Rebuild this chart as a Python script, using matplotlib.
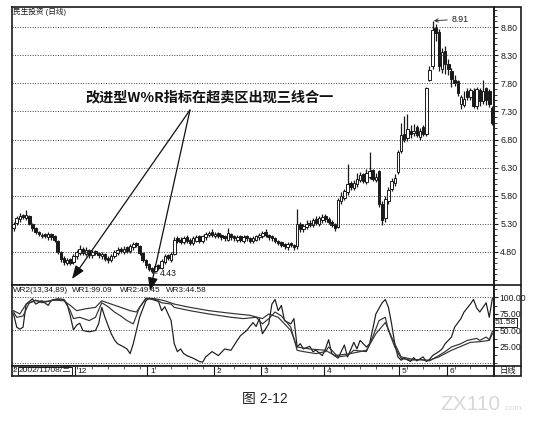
import matplotlib
matplotlib.use('Agg')
import matplotlib.pyplot as plt
import numpy as np
from matplotlib.ticker import MultipleLocator, FixedLocator
from matplotlib.patches import Rectangle, FancyArrowPatch
from matplotlib.lines import Line2D

plt.rcParams['font.family'] = ['Liberation Sans', 'Noto Sans CJK SC', 'DejaVu Sans']

# ---------------- data ----------------
opens = [5.22, 5.32, 5.38, 5.46, 5.40, 5.44, 5.30, 5.22, 5.16, 5.08,
         5.12, 5.06, 5.12, 5.08, 5.00, 4.80, 4.70, 4.60, 4.68, 4.62,
         4.72, 4.78, 4.86, 4.76, 4.84, 4.74, 4.82, 4.78, 4.72, 4.76,
         4.70, 4.66, 4.72, 4.78, 4.86, 4.80, 4.88, 4.82, 4.88, 4.96,
         4.90, 4.78, 4.66, 4.58, 4.52, 4.46, 4.56, 4.52, 4.62, 4.74,
         4.66, 4.76, 5.04, 5.02, 4.98, 5.06, 5.02, 4.96, 5.00, 5.08,
         5.00, 5.06, 5.10, 5.16, 5.08, 5.14, 5.10, 5.08, 5.02, 5.12,
         5.08, 5.02, 5.08, 5.00, 5.08, 5.04, 5.00, 5.02, 5.06, 5.08,
         5.16, 5.10, 5.08, 5.04, 5.00, 4.98, 4.94, 4.88, 4.96, 4.92,
         4.90, 5.30, 5.20, 5.24, 5.32, 5.28, 5.38, 5.30, 5.36, 5.44,
         5.38, 5.34, 5.30, 5.24, 5.70, 5.76, 5.86, 6.02, 5.94, 6.00,
         6.08, 6.18, 6.04, 6.14, 6.26, 6.08, 6.24, 5.66, 5.40, 5.70,
         5.92, 6.02, 6.22, 6.60, 6.90, 6.82, 6.96, 6.92, 7.02, 6.84,
         7.02, 6.90, 7.86, 8.10, 8.78, 8.72, 8.06, 8.38, 8.14, 8.02,
         7.86, 7.84, 7.44, 7.42, 7.66, 7.56, 7.66, 7.40, 7.68, 7.48,
         7.72, 7.66, 7.36]
closes = [5.30, 5.40, 5.44, 5.42, 5.46, 5.30, 5.22, 5.15, 5.12, 5.10,
          5.08, 5.12, 5.06, 5.02, 4.80, 4.68, 4.62, 4.66, 4.60, 4.72,
          4.80, 4.86, 4.78, 4.84, 4.74, 4.80, 4.78, 4.74, 4.76, 4.68,
          4.66, 4.72, 4.80, 4.84, 4.82, 4.86, 4.82, 4.90, 4.94, 4.92,
          4.78, 4.66, 4.56, 4.50, 4.46, 4.55, 4.52, 4.64, 4.72, 4.70,
          4.76, 5.02, 5.00, 4.98, 5.04, 5.00, 4.96, 5.04, 5.06, 5.00,
          5.08, 5.12, 5.14, 5.10, 5.12, 5.08, 5.06, 5.04, 5.14, 5.06,
          5.04, 5.06, 5.02, 5.06, 5.04, 5.00, 5.04, 5.08, 5.10, 5.14,
          5.10, 5.06, 5.04, 5.00, 4.96, 4.92, 4.90, 4.94, 4.92, 4.88,
          5.30, 5.20, 5.26, 5.30, 5.28, 5.36, 5.32, 5.40, 5.42, 5.38,
          5.34, 5.28, 5.22, 5.72, 5.80, 5.88, 6.00, 5.96, 6.02, 6.10,
          6.16, 6.06, 6.20, 6.24, 6.10, 6.14, 5.66, 5.36, 5.74, 5.90,
          6.06, 6.12, 6.58, 6.88, 6.80, 6.98, 6.90, 6.96, 6.88, 6.96,
          6.90, 7.72, 8.04, 8.74, 8.70, 8.10, 8.36, 8.14, 8.06, 7.88,
          7.80, 7.62, 7.56, 7.52, 7.56, 7.68, 7.40, 7.70, 7.48, 7.66,
          7.50, 7.44, 7.10]
highs = [5.34, 5.44, 5.50, 5.48, 5.54, 5.46, 5.32, 5.24, 5.18, 5.14,
         5.14, 5.16, 5.14, 5.10, 5.02, 4.82, 4.72, 4.70, 4.70, 4.76,
         4.84, 4.92, 4.88, 4.88, 4.86, 4.84, 4.84, 4.80, 4.80, 4.78,
         4.72, 4.76, 4.84, 4.88, 4.88, 4.90, 4.90, 4.94, 4.98, 4.98,
         4.92, 4.80, 4.68, 4.60, 4.54, 4.58, 4.58, 4.68, 4.76, 4.76,
         4.80, 5.06, 5.08, 5.06, 5.08, 5.10, 5.04, 5.08, 5.10, 5.10,
         5.10, 5.16, 5.18, 5.20, 5.16, 5.16, 5.12, 5.10, 5.22, 5.14,
         5.10, 5.10, 5.10, 5.10, 5.10, 5.06, 5.08, 5.10, 5.14, 5.18,
         5.20, 5.12, 5.10, 5.06, 5.02, 5.00, 4.96, 4.98, 4.98, 4.94,
         5.56, 5.34, 5.30, 5.36, 5.36, 5.40, 5.44, 5.44, 5.48, 5.48,
         5.42, 5.36, 5.32, 5.76, 5.86, 5.92, 6.36, 6.06, 6.08, 6.20,
         6.22, 6.20, 6.28, 6.58, 6.28, 6.20, 6.26, 5.70, 5.80, 5.96,
         6.12, 6.18, 6.62, 7.10, 7.22, 7.26, 7.06, 7.08, 7.06, 7.00,
         7.06, 7.74, 8.10, 8.91, 8.86, 8.76, 8.42, 8.46, 8.24, 8.08,
         7.94, 7.86, 7.60, 7.66, 7.72, 7.72, 7.72, 7.74, 7.72, 7.86,
         7.74, 7.70, 7.40]
lows = [5.18, 5.28, 5.34, 5.38, 5.36, 5.28, 5.18, 5.12, 5.08, 5.04,
        5.04, 5.02, 5.02, 4.98, 4.76, 4.62, 4.56, 4.56, 4.56, 4.58,
        4.68, 4.74, 4.74, 4.72, 4.70, 4.70, 4.74, 4.70, 4.68, 4.64,
        4.60, 4.62, 4.70, 4.74, 4.78, 4.76, 4.78, 4.78, 4.84, 4.88,
        4.74, 4.62, 4.52, 4.46, 4.43, 4.44, 4.48, 4.50, 4.58, 4.66,
        4.62, 4.74, 4.96, 4.94, 4.94, 4.96, 4.92, 4.92, 4.98, 4.96,
        4.96, 5.02, 5.06, 5.06, 5.04, 5.04, 5.02, 5.00, 5.00, 5.02,
        5.00, 4.98, 4.98, 4.96, 5.00, 4.96, 4.96, 5.00, 5.02, 5.04,
        5.06, 5.02, 5.00, 4.96, 4.92, 4.88, 4.86, 4.84, 4.88, 4.84,
        4.86, 5.16, 5.16, 5.20, 5.24, 5.24, 5.28, 5.26, 5.32, 5.34,
        5.30, 5.24, 5.18, 5.22, 5.66, 5.72, 5.82, 5.90, 5.90, 5.96,
        6.04, 6.02, 6.00, 6.10, 6.06, 6.04, 5.60, 5.28, 5.34, 5.66,
        5.88, 5.98, 6.18, 6.56, 6.76, 6.78, 6.82, 6.86, 6.84, 6.80,
        6.86, 6.86, 7.84, 8.06, 8.56, 8.02, 7.98, 7.96, 7.94, 7.74,
        7.76, 7.58, 7.34, 7.38, 7.50, 7.50, 7.36, 7.34, 7.40, 7.44,
        7.42, 7.38, 7.06]

# WR lines: (bar index, value) vertices
wr1_idx = [0, 1, 2, 3, 4, 6, 7, 9, 11, 12, 14, 16, 17, 18, 19, 20, 21, 22, 24, 26,
           27, 28, 29, 31, 32, 33, 35, 36, 37, 38, 40, 42, 43, 44, 46, 47, 48, 50, 51, 52,
           53, 54, 55, 57, 59, 60, 61, 63, 65, 67, 69, 71, 72, 74, 76, 77, 78, 79, 81, 82,
           83, 84, 85, 86, 88, 89, 90, 91, 92, 94, 95, 96, 98, 99, 100, 101, 103, 104, 105, 106,
           108, 109, 110, 112, 113, 114, 115, 117, 118, 119, 120, 121, 122, 123, 124, 126, 127, 128, 130, 131,
           132, 133, 135, 136, 137, 139, 140, 142, 143, 145, 146, 147, 148, 150, 151, 152]
wr1_val = [75, 55, 52, 55, 90, 98, 90, 95, 88, 96, 98, 97, 90, 72, 51, 58, 61, 50, 48, 50,
           60, 85, 70, 45, 36, 30, 25, 22, 15, 30, 70, 95, 99, 97, 94, 80, 86, 65, 30, 18,
           22, 15, 12, 8, 3, 2, 10, 18, 12, 22, 20, 35, 42, 50, 62, 56, 68, 45, 60, 90,
           97, 80, 88, 65, 60, 68, 25, 30, 22, 26, 18, 20, 12, 22, 36, 15, 8, 18, 28, 10,
           32, 22, 35, 25, 30, 52, 75, 92, 97, 85, 60, 30, 10, 5, 8, 3, 9, 4, 10, 3,
           6, 12, 18, 22, 30, 40, 55, 68, 78, 90, 97, 84, 78, 92, 70, 99]
wr2_idx = [0, 1, 3, 5, 7, 9, 12, 14, 16, 18, 19, 21, 24, 26, 28, 30, 32, 34, 36, 38,
           40, 42, 45, 47, 50, 51, 56, 62, 69, 73, 77, 79, 81, 83, 85, 88, 90, 92, 96, 99,
           100, 103, 106, 108, 112, 114, 116, 118, 119, 121, 123, 126, 129, 132, 135, 137, 139, 142, 144, 147,
           148, 150, 151, 152]
wr2_val = [78, 70, 72, 92, 96, 92, 95, 97, 96, 80, 68, 70, 65, 70, 92, 86, 78, 72, 65, 60,
           85, 98, 97, 92, 90, 85, 80, 75, 70, 68, 70, 60, 68, 78, 72, 55, 20, 18, 15, 18,
           25, 10, 12, 20, 18, 40, 65, 70, 50, 25, 8, 5, 6, 4, 12, 18, 25, 30, 35, 38,
           35, 40, 36, 49]
wr3_idx = [0, 2, 4, 7, 10, 13, 16, 18, 20, 23, 26, 28, 31, 34, 37, 39, 41, 42, 45, 48,
           51, 56, 62, 69, 75, 79, 81, 84, 88, 90, 94, 99, 102, 107, 112, 115, 118, 120, 123, 127,
           132, 135, 139, 142, 145, 148, 151, 152]
wr3_val = [80, 75, 90, 95, 94, 96, 95, 88, 80, 83, 85, 95, 90, 85, 80, 78, 92, 99, 98, 95,
           90, 85, 80, 76, 73, 68, 75, 70, 50, 25, 22, 20, 12, 15, 20, 45, 62, 40, 10, 6,
           5, 10, 20, 26, 32, 33, 35, 45]

price_ticks = [4.80, 5.30, 5.80, 6.30, 6.80, 7.30, 7.80, 8.30, 8.80]
wr_ticks = [25, 50, 75, 100]
month_labels = ['12', '1', '2', '3', '4', '5', '6']
month_start = [20, 43, 64, 79, 99, 123, 138]
legend_texts = ['WR2(13,34,89)', 'WR1:99.09', 'WR2:49.45', 'WR3:44.58']
peak_label, low_label = '8.91', '4.43'
peak_idx, low_idx = 133, 44
cursor_value = '51.58'
cursor_date = '2002/11/08/三'
title_text = '民生投资 (日线)'
note_text = '改进型W%R指标在超卖区出现三线合一'
caption = '图 2-12'

# ---------------- layout helpers ----------------
W, H = 537, 422
def fx(x):
    return x / W
def fy(y):
    return 1 - y / H

ink = '#1a1a1a'
fig = plt.figure(figsize=(W / 100, H / 100), dpi=100)
fig.patch.set_facecolor('white')

L, R = 12, 494
ax = fig.add_axes([fx(L), fy(285), (R - L) / W, (285 - 7) / H])
axw = fig.add_axes([fx(L), fy(366), (R - L) / W, (366 - 285) / H])
axd = fig.add_axes([fx(L), fy(376), (R - L) / W, (376 - 366) / H])

n = len(closes)
idx = np.arange(n)
o = np.array(opens); c = np.array(closes); h = np.array(highs); l = np.array(lows)
up = c >= o
lo_b = np.minimum(o, c); hi_b = np.maximum(o, c)
ax.vlines(idx, l, lo_b, color=ink, lw=0.9)
ax.vlines(idx, hi_b, h, color=ink, lw=0.9)
bh = np.maximum(hi_b - lo_b, 0.015)
ax.bar(idx[up], bh[up], bottom=lo_b[up], width=0.8, facecolor='white', edgecolor=ink, lw=0.7)
ax.bar(idx[~up], bh[~up], bottom=lo_b[~up], width=0.8, facecolor=ink, edgecolor=ink, lw=0.7)

for a in (ax, axw, axd):
    a.set_xlim(-0.5, n - 0.5)
    a.set_xticks([])
    for s in a.spines.values():
        s.set_color(ink)
        s.set_linewidth(1.2)

ax.set_ylim(4.213, 9.156)
ax.yaxis.tick_right()
ax.yaxis.set_major_locator(FixedLocator(price_ticks))
ax.yaxis.set_minor_locator(MultipleLocator(0.1))
ax.set_yticklabels(['%.2f' % t for t in price_ticks])
ax.tick_params(axis='y', which='major', direction='out', length=3, width=0.8,
               labelsize=6.3, pad=1.5, colors=ink)
ax.tick_params(axis='y', which='minor', direction='out', length=1.8, width=0.6, colors=ink)
ax.grid(axis='y', which='major', ls=(0, (1, 1.6)), color='#444444', lw=0.7)

# WR panel
axw.plot(wr1_idx, wr1_val, color=ink, lw=0.85)
axw.plot(wr2_idx, wr2_val, color='#333333', lw=0.85)
axw.plot(wr3_idx, wr3_val, color='#333333', lw=0.85)
axw.set_ylim(-3.8, 118.9)
axw.yaxis.tick_right()
axw.yaxis.set_major_locator(FixedLocator(wr_ticks))
axw.set_yticklabels(['%.2f' % t for t in wr_ticks])
axw.yaxis.set_minor_locator(MultipleLocator(12.5))
axw.tick_params(axis='y', which='major', direction='out', length=3, width=0.8,
                labelsize=6.2, pad=1.0, colors=ink)
axw.tick_params(axis='y', which='minor', direction='out', length=1.8, width=0.6, colors=ink)
for g in (0, 50, 100):
    axw.axhline(g, ls=(0, (1, 1.6)), color='#444444', lw=0.7)

lx = [12.5, 72, 120, 166]
for t, x in zip(legend_texts, lx):
    fig.text(fx(x), fy(290.5), t, fontsize=5.9, color=ink, ha='left', va='center')

fig.text(fx(495), fy(322.5), cursor_value, fontsize=6.0, color=ink, ha='left', va='center',
         bbox=dict(boxstyle='square,pad=0.1', facecolor='white', edgecolor=ink, lw=0.7))

# date row
axd.set_ylim(0, 1)
axd.set_yticks([])
for m, lab in zip(month_start, month_labels):
    axd.axvline(m - 0.5, color=ink, lw=0.8)
    axd.text(m + 0.3, 0.45, lab, fontsize=6, ha='left', va='center', color=ink)
axd.vlines(np.arange(0, n, 5), 0.7, 1.0, color=ink, lw=0.5)
fig.text(fx(13), fy(371), '2', fontsize=6, ha='left', va='center', color=ink)
fig.text(fx(19), fy(371), cursor_date, fontsize=6, ha='left', va='center', color=ink,
         bbox=dict(boxstyle='square,pad=0.1', facecolor='white', edgecolor=ink, lw=0.7))

# right column frame
fig.add_artist(Rectangle((fx(R), fy(376)), (521 - R) / W, (376 - 7) / H, transform=fig.transFigure,
                         fill=False, edgecolor=ink, lw=1.2))
for yy in (285, 366):
    fig.add_artist(Line2D([fx(R), fx(521)], [fy(yy), fy(yy)], color=ink, lw=1.2))
fig.text(fx(507.5), fy(371), '日线', fontsize=6, ha='center', va='center', color=ink)

# title
fig.text(fx(13), fy(12), title_text, fontsize=5.5, ha='left', va='center', color=ink)

# annotations
fig.text(fx(85), fy(97), note_text, fontsize=10.2, fontweight='bold', ha='left', va='center',
         color='#111111', family=['Noto Sans CJK SC'])
for tip in [(72, 279), (150, 291)]:
    fig.add_artist(FancyArrowPatch((fx(190), fy(110)), (fx(tip[0]), fy(tip[1])),
                                   transform=fig.transFigure, arrowstyle='-|>,head_length=0.8,head_width=0.3',
                                   mutation_scale=10, color='#111111', lw=0.9,
                                   shrinkA=0, shrinkB=0))

ax.annotate(peak_label, xy=(peak_idx, highs[peak_idx]), xytext=(peak_idx + 6, highs[peak_idx] + 0.03),
            fontsize=6.3, color=ink, va='center', ha='left',
            arrowprops=dict(arrowstyle='->', color=ink, lw=0.6, shrinkA=1, shrinkB=1))
ax.annotate(low_label, xy=(low_idx, lows[low_idx]), xytext=(low_idx + 2.5, lows[low_idx] - 0.02),
            fontsize=6.3, color=ink, va='center', ha='left',
            arrowprops=dict(arrowstyle='-', color=ink, lw=0.6, shrinkA=0, shrinkB=0))

# caption & watermark
fig.text(fx(265), fy(399), caption, fontsize=10, ha='center', va='center', color='#222222')
fig.text(fx(440), fy(405), 'ZX110', fontsize=15, ha='left', va='center', color='#d8d8d8')
fig.text(fx(503), fy(408), '.com', fontsize=6, ha='left', va='center', color='#d8d8d8')

fig.savefig('out.png', dpi=100, facecolor='white')
